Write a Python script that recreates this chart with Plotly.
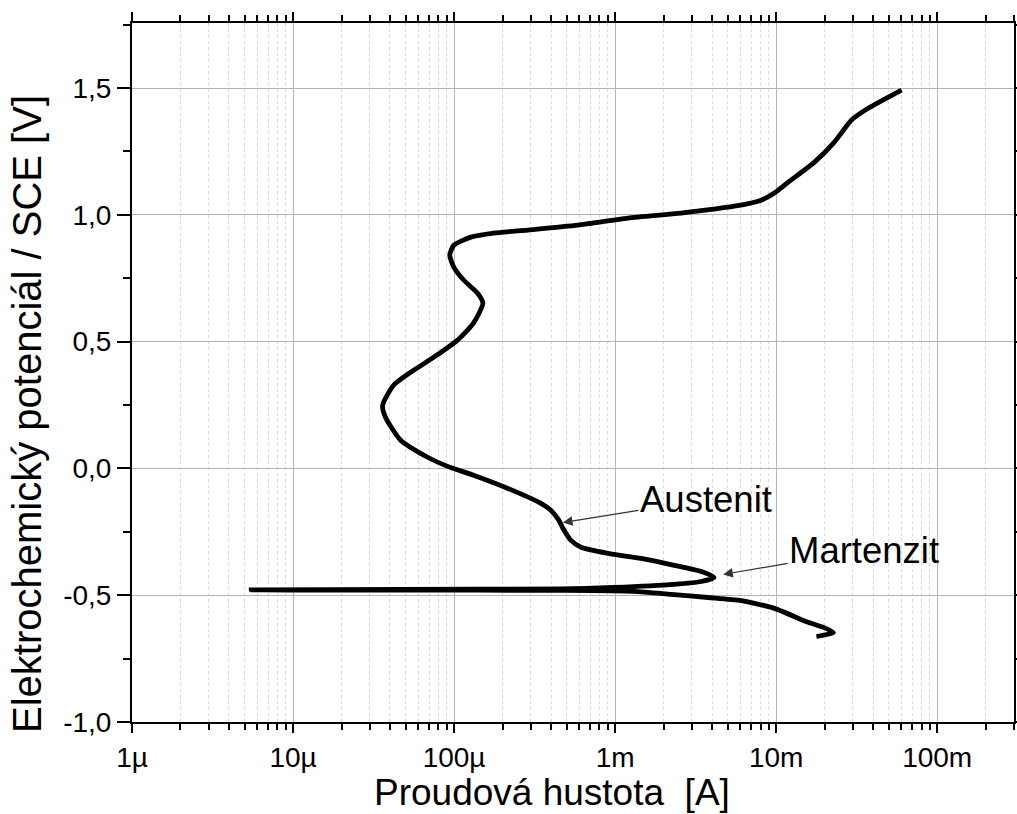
import numpy as np
import plotly.graph_objects as go

# Polarization curve (measurement order: cathodic start -> anodic end)
current_A = [1.78e-2, 2.27e-2, 1.97e-2, 1.58e-2, 9.75e-3, 6.06e-3, 3.78e-3, 2.23e-3, 1.31e-3,
             4.6e-4, 4.66e-5, 5.5e-6, 4.66e-5, 4.6e-4, 9.84e-4, 2.33e-3, 3.43e-3, 4.12e-3,
             3.57e-3, 2.33e-3, 1.45e-3, 9.04e-4, 6.14e-4, 5.32e-4, 4.74e-4, 4.48e-4, 3.99e-4,
             3.46e-4, 2.16e-4, 1.32e-4, 9.12e-5, 6.85e-5, 4.66e-5, 3.75e-5, 3.6e-5,
             4.21e-5, 5.37e-5, 7.47e-5, 1.05e-4, 1.32e-4, 1.51e-4, 1.40e-4, 1.15e-4, 9.96e-5,
             9.4e-5, 9.96e-5, 1.27e-4, 1.76e-4, 2.87e-4, 5.87e-4, 1.20e-3, 2.57e-3, 5.50e-3,
             8.09e-3, 9.75e-3, 1.19e-2, 1.73e-2, 2.30e-2, 2.94e-2, 3.75e-2, 6.01e-2]
potential_V = [-0.663, -0.647, -0.627, -0.607, -0.552, -0.521, -0.509, -0.497, -0.485,
               -0.481, -0.480, -0.479, -0.477, -0.475, -0.469, -0.457, -0.446, -0.430,
               -0.410, -0.382, -0.355, -0.335, -0.311, -0.284, -0.236, -0.205, -0.165,
               -0.138, -0.079, -0.027, 0.008, 0.044, 0.111, 0.202, 0.249,
               0.328, 0.379, 0.438, 0.506, 0.573, 0.652, 0.691, 0.742, 0.794,
               0.841, 0.880, 0.912, 0.928, 0.940, 0.959, 0.987, 1.007, 1.034,
               1.058, 1.086, 1.129, 1.208, 1.287, 1.374, 1.421, 1.492]

x_tickvals = [1e-6, 1e-5, 1e-4, 1e-3, 1e-2, 1e-1]
x_ticktext = ["1µ", "10µ", "100µ", "1m", "10m", "100m"]
y_tickvals = [-1.0, -0.5, 0.0, 0.5, 1.0, 1.5]
y_ticktext = ["-1,0", "-0,5", "0,0", "0,5", "1,0", "1,5"]

# annotations: (label, arrow-head current, arrow-head potential)
ann_labels = ["Austenit", "Martenzit"]
ann_current = [4.74e-4, 4.69e-3]
ann_potential = [-0.213, -0.418]

FONT = "Liberation Sans, Arial, sans-serif"

W, H = 1017, 814
ml, mr, mt, mb = 132, 3, 23, 92
pw, ph = W - ml - mr, H - mt - mb

fig = go.Figure()
fig.add_trace(go.Scatter(x=current_A, y=potential_V, mode="lines",
                         line=dict(color="black", width=4.8, shape="spline", smoothing=0.6),
                         showlegend=False, hoverinfo="skip"))

fig.add_annotation(x=np.log10(ann_current[0]), y=ann_potential[0], xref="x", yref="y",
                   text=ann_labels[0], showarrow=True, ax=143, ay=-23,
                   arrowhead=2, arrowsize=1.6, arrowwidth=1.2, arrowcolor="#333",
                   font=dict(family=FONT, size=36.5, color="black"))
fig.add_annotation(x=np.log10(ann_current[1]), y=ann_potential[1], xref="x", yref="y",
                   text=ann_labels[1], showarrow=True, ax=141, ay=-24,
                   arrowhead=2, arrowsize=1.6, arrowwidth=1.2, arrowcolor="#333",
                   font=dict(family=FONT, size=36.5, color="black"))

# axis titles (placed by pixel position, converted to paper coords)
fig.add_annotation(x=(552 - ml) / pw, y=1 - (792 - mt) / ph, xref="paper", yref="paper",
                   xanchor="center", yanchor="middle",
                   text="Proudová hustota\u00a0\u00a0[A]",
                   showarrow=False, font=dict(family=FONT, size=37, color="black"))
fig.add_annotation(x=(27 - ml) / pw, y=1 - (414 - mt) / ph, xref="paper", yref="paper",
                   xanchor="center", yanchor="middle",
                   text="Elektrochemický potenciál / SCE [V]", textangle=-90,
                   showarrow=False, font=dict(family=FONT, size=40, color="black"))

fig.update_xaxes(type="log", range=[-6, np.log10(0.3)],
                 tickvals=x_tickvals, ticktext=x_ticktext,
                 ticks="outside", ticklen=9, tickwidth=2, tickcolor="black",
                 showline=True, linewidth=2, linecolor="black", mirror="ticks",
                 showgrid=True, gridcolor="#b4b4b4", gridwidth=1,
                 tickfont=dict(family=FONT, size=28, color="black"),
                 minor=dict(dtick="D1", ticks="outside", ticklen=6, tickwidth=2, tickcolor="black",
                            showgrid=True, gridcolor="#d8d8d8", griddash="dot", gridwidth=1),
                 zeroline=False, automargin=False)
fig.update_yaxes(range=[-1.0, 1.7565],
                 tickvals=y_tickvals, ticktext=y_ticktext,
                 ticks="outside", ticklen=13, tickwidth=2, tickcolor="black",
                 showline=True, linewidth=2, linecolor="black", mirror="ticks",
                 showgrid=True, gridcolor="#b4b4b4", gridwidth=1,
                 tickfont=dict(family=FONT, size=28, color="black"),
                 minor=dict(dtick=0.25, ticks="outside", ticklen=7, tickwidth=2, tickcolor="black",
                            showgrid=False),
                 zeroline=False, automargin=False)

fig.update_layout(width=W, height=H, margin=dict(l=ml, r=mr, t=mt, b=mb),
                  plot_bgcolor="white", paper_bgcolor="white",
                  font=dict(family=FONT, color="black"))

fig.write_html("out.html", config={"displayModeBar": False},
               post_script="document.body.style.margin='0';document.body.style.overflow='hidden';")
